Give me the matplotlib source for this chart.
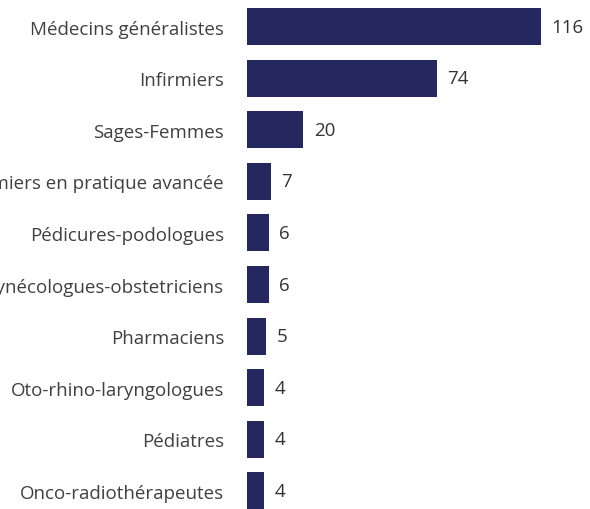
import matplotlib
matplotlib.use('Agg')
import matplotlib.pyplot as plt
import numpy as np

# professions et effectifs
professions = ['Médecins généralistes', 'Infirmiers', 'Sages-Femmes',
               'Infirmiers en pratique avancée', 'Pédicures-podologues',
               'Gynécologues-obstetriciens', 'Pharmaciens',
               'Oto-rhino-laryngologues', 'Pédiatres', 'Onco-radiothérapeutes']
effectifs = [116, 74, 20, 7, 6, 6, 5, 4, 4, 4]

plt.rcParams['font.family'] = ['Open Sans', 'DejaVu Sans']

bar_color = '#25275f'
offset = 2.75  # les barres partent un peu avant zéro dans l'original

fig = plt.figure(figsize=(5.9, 5.1), dpi=100)
ax = fig.add_axes([247 / 590, 0, 1 - 247 / 590, 1])

y = np.arange(len(professions))
vals = np.array(effectifs)
ax.barh(y, vals + offset, left=-offset, height=0.72, color=bar_color)

for yi, v in zip(y, vals):
    ax.annotate(str(v), xy=(v, yi), xytext=(7.5, 0), textcoords='offset points',
                va='center', ha='left', fontsize=13.5, color='#333333')

ax.set_yticks(y)
ax.set_yticklabels(professions, fontsize=13.5, color='#404040')
ax.tick_params(axis='y', length=0, pad=16.5)
ax.set_xticks([])
ax.set_xlim(-offset, 135.8)
ax.set_ylim(9.35, -0.533)
for s in ax.spines.values():
    s.set_visible(False)

fig.savefig('out.png', dpi=100)
